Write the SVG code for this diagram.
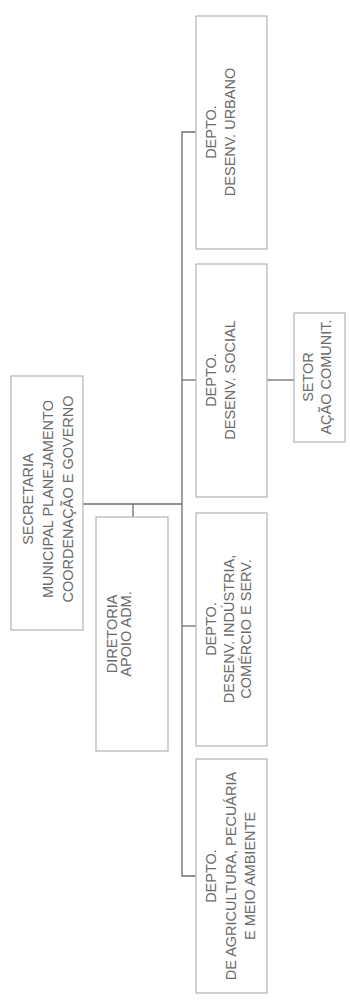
<svg xmlns="http://www.w3.org/2000/svg" width="350" height="1001" viewBox="0 0 350 1001">
<style>
.box{fill:#ffffff;stroke:#b4b4b4;stroke-width:1.2}
.ln{fill:none;stroke:#6e6e6e;stroke-width:1.3}
text{font-family:"Liberation Sans",Arial,sans-serif;font-size:14.5px;fill:#6a6a6a;text-anchor:middle}
</style>
<rect width="350" height="1001" fill="#ffffff"/>
<g id="connectors">
<path class="ln" d="M196,132 H182 V876 H196"/>
<path class="ln" d="M182,380 H196"/>
<path class="ln" d="M182,626 H196"/>
<path class="ln" d="M83,504 H182"/>
<path class="ln" d="M133,504 V517"/>
<path class="ln" d="M267,380 H294"/>
</g>
<g id="secretaria">
<rect class="box" x="11" y="376" width="72" height="254"/>
<text transform="translate(32.5,499) rotate(-90)">SECRETARIA</text>
<text transform="translate(52.5,499) rotate(-90)">MUNICIPAL PLANEJAMENTO</text>
<text transform="translate(72.5,499) rotate(-90)">COORDENAÇÃO E GOVERNO</text>
</g>
<g id="diretoria">
<rect class="box" x="96" y="517" width="72" height="234"/>
<text transform="translate(116.5,634) rotate(-90)">DIRETORIA</text>
<text transform="translate(130.5,634) rotate(-90)">APOIO ADM.</text>
</g>
<g id="urbano">
<rect class="box" x="196" y="16" width="71" height="233"/>
<text transform="translate(216,132) rotate(-90)">DEPTO.</text>
<text transform="translate(235,132) rotate(-90)">DESENV. URBANO</text>
</g>
<g id="social">
<rect class="box" x="196" y="264" width="71" height="233"/>
<text transform="translate(216,380) rotate(-90)">DEPTO.</text>
<text transform="translate(235,380) rotate(-90)">DESENV. SOCIAL</text>
</g>
<g id="setor">
<rect class="box" x="294" y="313" width="51" height="129"/>
<text transform="translate(313,377) rotate(-90)">SETOR</text>
<text transform="translate(331,377) rotate(-90)">AÇÃO COMUNIT.</text>
</g>
<g id="industria">
<rect class="box" x="196" y="513" width="71" height="233"/>
<text transform="translate(216,629) rotate(-90)">DEPTO.</text>
<text transform="translate(234,629) rotate(-90)">DESENV. INDÚSTRIA,</text>
<text transform="translate(251,629) rotate(-90)">COMÉRCIO E SERV.</text>
</g>
<g id="agricultura">
<rect class="box" x="196" y="759" width="71" height="234"/>
<text transform="translate(216,876) rotate(-90)">DEPTO.</text>
<text transform="translate(236,876) rotate(-90)">DE AGRICULTURA, PECUÁRIA</text>
<text transform="translate(255,876) rotate(-90)">E MEIO AMBIENTE</text>
</g>
</svg>
